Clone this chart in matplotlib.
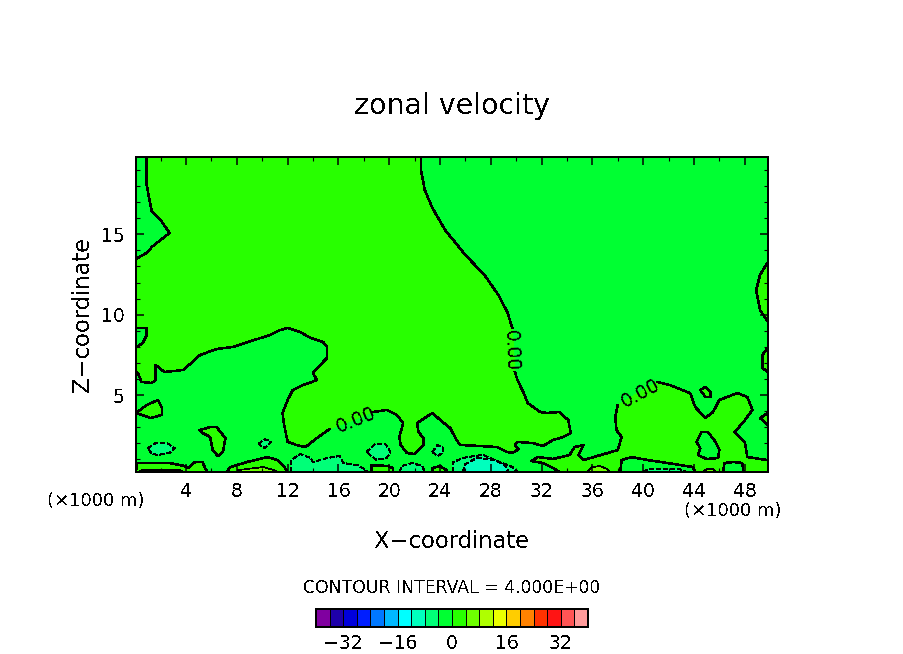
import matplotlib
matplotlib.use('Agg')
import matplotlib.pyplot as plt
import numpy as np

# pixelated look of the original plot
plt.rcParams['font.family'] = 'DejaVu Sans'
plt.rcParams['text.antialiased'] = False
plt.rcParams['lines.antialiased'] = False
plt.rcParams['patch.antialiased'] = False

# colour bar
levels = list(range(-40, 44, 4))
bar_ticks = [-32, -16, 0, 16, 32]
colors = ['#8000a0', '#1e00aa', '#0000dc', '#001eff', '#0078ff', '#00b9ff', '#00ffff',
          '#00ffbe', '#00ff78', '#00ff32', '#28ff00', '#6eff00', '#afff00', '#ebff00',
          '#ffcd00', '#ff8200', '#ff3200', '#ff1414', '#ff5555', '#ff9b9b']
COOL = colors[8]
COOLER = colors[7]
BASE = colors[9]
WARM = colors[10]
WARMER = colors[11]

x_ticks = [4, 8, 12, 16, 20, 24, 28, 32, 36, 40, 44, 48]
z_ticks = [5, 10, 15]

# zero contour, big middle area, split where the labels break the line
a1 = [(22.5, 19.81), (22.5, 19.0), (22.8, 17.76), (23.4, 16.64), (24.4, 15.27), (26.0, 13.71),
      (27.5, 12.47), (28.6, 11.22), (29.3, 10.16), (29.7, 9.17)]
a2 = [(29.9, 6.43), (30.1, 5.93), (30.6, 5.12), (30.9, 4.5), (31.9, 3.94), (32.4, 3.88),
      (33.4, 3.94), (34.1, 3.44), (34.3, 2.64), (33.7, 2.39), (32.9, 2.2), (32.1, 1.83),
      (31.3, 2.01), (30.1, 2.08), (29.9, 1.89), (30.2, 1.64), (29.7, 1.39), (29.3, 1.45),
      (28.5, 1.76), (27.1, 1.83), (25.6, 1.89), (25.3, 2.2), (24.8, 2.95), (24.2, 3.32),
      (23.4, 3.88), (22.2, 3.26), (22.3, 2.7), (22.7, 2.32), (22.7, 1.89), (22.0, 1.33),
      (21.4, 1.39), (20.9, 1.89), (20.8, 2.39), (21.1, 3.26), (20.6, 3.76), (19.8, 4.07),
      (18.7, 3.94)]
a3 = [(15.3, 2.88), (14.3, 2.32), (13.4, 1.76), (12.7, 1.89), (12.0, 2.08), (11.7, 3.26),
      (11.6, 3.88), (12.0, 4.69), (12.4, 5.31), (13.2, 5.62), (13.9, 5.81), (14.3, 5.93),
      (14.0, 6.37), (14.4, 6.74), (15.1, 7.3), (15.1, 7.99), (14.8, 8.3), (13.8, 8.55),
      (13.0, 8.92), (12.0, 9.17), (11.4, 9.04), (10.6, 8.73), (9.6, 8.48), (7.7, 7.99),
      (6.4, 7.86), (5.1, 7.49), (3.8, 6.56), (2.3, 6.43), (1.6, 6.87), (1.6, 5.93),
      (1.3, 5.75), (0.5, 5.81), (0.2, 6.37), (0.06, 6.49), (0.06, 13.46), (1.0, 13.9),
      (1.3, 14.21), (2.0, 14.65), (2.7, 15.08), (2.0, 15.89), (1.3, 16.45), (1.2, 16.82),
      (0.9, 18.07), (0.9, 19.81)]

# zero contour, right area
b1 = [(33.4, 0.21), (32.9, 0.46), (32.1, 0.77), (31.2, 0.89), (31.7, 1.14), (32.9, 1.02),
      (34.2, 1.27), (34.6, 1.76), (35.3, 1.89), (34.9, 1.27), (35.3, 0.96), (37.2, 1.39),
      (38.0, 1.58), (38.3, 2.39), (37.9, 2.82), (37.8, 3.63), (38.0, 4.38)]
b2 = [(41.1, 5.81), (42.1, 5.62), (43.7, 5.12), (44.1, 4.25), (44.9, 3.57), (45.5, 3.94),
      (46.0, 4.69), (47.4, 5.12), (48.2, 4.88), (48.6, 4.07), (47.9, 3.32), (47.2, 2.7),
      (48.0, 2.08), (48.2, 1.14), (49.7, 0.96), (49.83, 0.95), (49.83, 0.21)]

# holes back to the -4..0 colour
holes = [
    [(38.2, 0.21), (38.3, 0.96), (39.1, 1.14), (40.3, 0.96), (41.9, 0.77), (43.9, 0.52), (44.1, 0.21)],
    [(44.2, 2.08), (44.6, 2.7), (45.1, 2.7), (45.7, 2.08), (46.0, 1.58), (45.9, 1.08), (45.0, 1.02),
     (44.3, 1.27), (44.5, 1.7)],
    [(46.3, 0.21), (46.4, 0.77), (47.1, 0.83), (47.8, 0.77), (47.9, 0.21)],
    [(0.06, 9.17), (0.9, 9.17), (0.9, 8.73), (0.6, 8.24), (0.14, 7.99), (0.06, 7.99)],
]

# small 0..4 islands
islands = [
    [(0.06, 3.88), (0.9, 4.38), (1.8, 4.69), (2.1, 4.19), (2.1, 3.76), (1.2, 3.57)],
    [(5.1, 2.82), (5.9, 3.01), (6.4, 3.01), (7.1, 2.32), (6.9, 1.45), (6.5, 1.2), (6.1, 1.58),
     (5.9, 2.39), (5.3, 2.64)],
    [(0.06, 0.21), (0.14, 0.77), (1.2, 0.77), (2.7, 0.77), (3.9, 0.58), (4.2, 0.46), (4.7, 0.83),
     (5.3, 0.83), (5.5, 0.46), (5.7, 0.21)],
    [(7.2, 0.21), (7.5, 0.52), (8.8, 0.83), (10.4, 1.14), (11.2, 0.96), (11.8, 0.46), (12.0, 0.21)],
    [(18.6, 0.21), (18.6, 0.64), (19.9, 0.58), (20.3, 0.46), (20.3, 0.21)],
    [(23.4, 0.21), (23.4, 0.46), (24.0, 0.58), (24.5, 0.33), (24.5, 0.21)],
    [(44.5, 5.31), (44.9, 5.5), (45.3, 5.19), (45.3, 4.88), (44.9, 4.88)],
    [(49.83, 3.88), (49.2, 3.57), (49.83, 3.13)],
    [(49.83, 13.28), (49.2, 12.47), (48.9, 11.53), (49.2, 10.29), (49.83, 9.54)],
    [(49.83, 7.99), (49.4, 7.49), (49.4, 6.68), (49.83, 6.43)],
]

# -8..-4 patches, dashed outline
cool = [
    [(1.0, 1.7), (1.6, 2.01), (2.5, 2.01), (3.1, 1.7), (2.7, 1.39), (1.8, 1.27), (1.3, 1.33)],
    [(9.7, 1.95), (10.2, 2.26), (10.7, 2.08), (10.2, 1.7)],
    [(18.2, 1.45), (18.9, 1.95), (19.7, 1.95), (20.1, 1.45), (19.8, 1.08), (19.0, 0.96)],
    [(23.4, 1.45), (23.8, 1.89), (24.2, 1.76), (24.2, 1.39), (23.8, 1.2)],
    [(12.3, 0.21), (12.3, 0.96), (13.0, 1.33), (13.8, 1.08), (14.0, 0.83), (15.1, 1.08), (16.1, 1.2),
     (16.4, 0.77), (17.5, 0.64), (17.9, 0.46), (18.3, 0.21)],
    [(20.8, 0.21), (21.0, 0.58), (21.8, 0.77), (22.6, 0.58), (22.8, 0.21)],
    [(25.0, 0.21), (25.0, 0.83), (26.1, 1.14), (27.4, 1.27), (28.7, 0.83), (29.7, 0.52), (30.1, 0.21)],
    [(40.0, 0.21), (40.4, 0.39), (42.9, 0.39), (43.4, 0.21)],
]
cooler = [
    [(25.8, 0.21), (26.0, 0.71), (26.9, 1.08), (28.3, 0.96), (29.1, 0.64), (29.4, 0.21)],
]

# 4..8 patches
warmer = [
    [(0.3, 0.21), (0.5, 0.33), (3.5, 0.33), (3.8, 0.21)],
    [(8.0, 0.21), (8.1, 0.33), (10.1, 0.52), (10.9, 0.33), (11.2, 0.21)],
    [(35.6, 0.21), (36.0, 0.52), (36.6, 0.58), (37.2, 0.39), (37.4, 0.21)],
    [(44.7, 0.21), (45.0, 0.39), (45.5, 0.39), (45.7, 0.21)],
]

fig = plt.figure(figsize=(9.04, 6.54), dpi=100, facecolor='white')
ax = fig.add_axes([136 / 904, 1 - 472 / 654, 632 / 904, 315 / 654])
ax.set_facecolor(BASE)
ax.set_xlim(0.06, 49.83)
ax.set_ylim(0.21, 19.81)


def fill(points, color, z=1):
    ax.fill([p[0] for p in points], [p[1] for p in points], color=color, lw=0, zorder=z)


def outline(points, lw=1.1, ls='-', closed=False, z=3):
    pts = points + points[:1] if closed else points
    ax.plot([p[0] for p in pts], [p[1] for p in pts], color='k', lw=lw, ls=ls, zorder=z)


# fills
fill(a1 + a2 + a3, WARM)
fill(b1 + b2, WARM)
for h in holes:
    fill(h, BASE, 2)
for i in islands:
    fill(i, WARM, 2)
for c in cool:
    fill(c, COOL, 2)
for c in cooler:
    fill(c, COOLER, 2.5)
for w in warmer:
    fill(w, WARMER, 2.5)

# contour lines
outline(a1)
outline(a2)
outline(a3)
outline(b1)
outline(b2)
for h in holes:
    outline(h, closed=True)
for i in islands:
    outline(i, closed=True)
for c in cool + cooler:
    outline(c, lw=0.6, ls=(0, (5, 3)), closed=True)
for w in warmer:
    outline(w, lw=0.5, closed=True)

# contour labels
ax.text(29.6, 7.75, '0.00', rotation=272, fontsize=13.5, ha='center', va='center', zorder=4)
ax.text(17.4, 3.45, '0.00', rotation=22, fontsize=13.5, ha='center', va='center', zorder=4)
ax.text(39.8, 5.1, '0.00', rotation=28, fontsize=13.5, ha='center', va='center', zorder=4)

# frame and ticks
for s in ax.spines.values():
    s.set_linewidth(1.1)
    s.set_zorder(6)
ax.set_xticks(x_ticks)
ax.set_yticks(z_ticks)
ax.set_xticks(np.arange(2, 50, 4), minor=True)
ax.set_yticks(np.arange(1, 20, 1), minor=True)
ax.tick_params(which='major', direction='in', top=True, right=True, length=6, width=1.1, labelsize=13.5, pad=7)
ax.tick_params(which='minor', direction='in', top=True, right=True, length=3.2, width=0.8)
ax.tick_params(axis='y', which='major', pad=8)
ax.set_axisbelow(False)

# texts
fig.text(452 / 904, 1 - 106 / 654, 'zonal velocity', fontsize=20.5, ha='center', va='center')
fig.text(452 / 904, 1 - 541 / 654, 'X\u2212coordinate', fontsize=16.3, ha='center', va='center')
fig.text(83 / 904, 1 - 314 / 654, 'Z\u2212coordinate', fontsize=16.3, rotation=90, ha='center', va='center')
fig.text(96 / 904, 1 - 501 / 654, '(\u00d71000 m)', fontsize=13, ha='center', va='center')
fig.text(733 / 904, 1 - 511 / 654, '(\u00d71000 m)', fontsize=13, ha='center', va='center')
fig.text(452 / 904, 1 - 588 / 654, 'CONTOUR INTERVAL = 4.000E+00', fontsize=12.4, ha='center', va='center')

# colour bar
cax = fig.add_axes([316 / 904, 1 - 627 / 654, 272 / 904, 18 / 654])
cax.pcolormesh(levels, [0, 1], [list(range(20))], cmap=matplotlib.colors.ListedColormap(colors),
               edgecolors='k', linewidth=0.7)
cax.set_xlim(levels[0], levels[-1])
cax.set_yticks([])
cax.set_xticks(bar_ticks)
cax.set_xticklabels(['\u221232', '\u221216', '0', '16', '32'])
cax.tick_params(axis='x', length=0, labelsize=13.5, pad=5)
for s in cax.spines.values():
    s.set_linewidth(1.1)

fig.savefig('out.png', dpi=100)
